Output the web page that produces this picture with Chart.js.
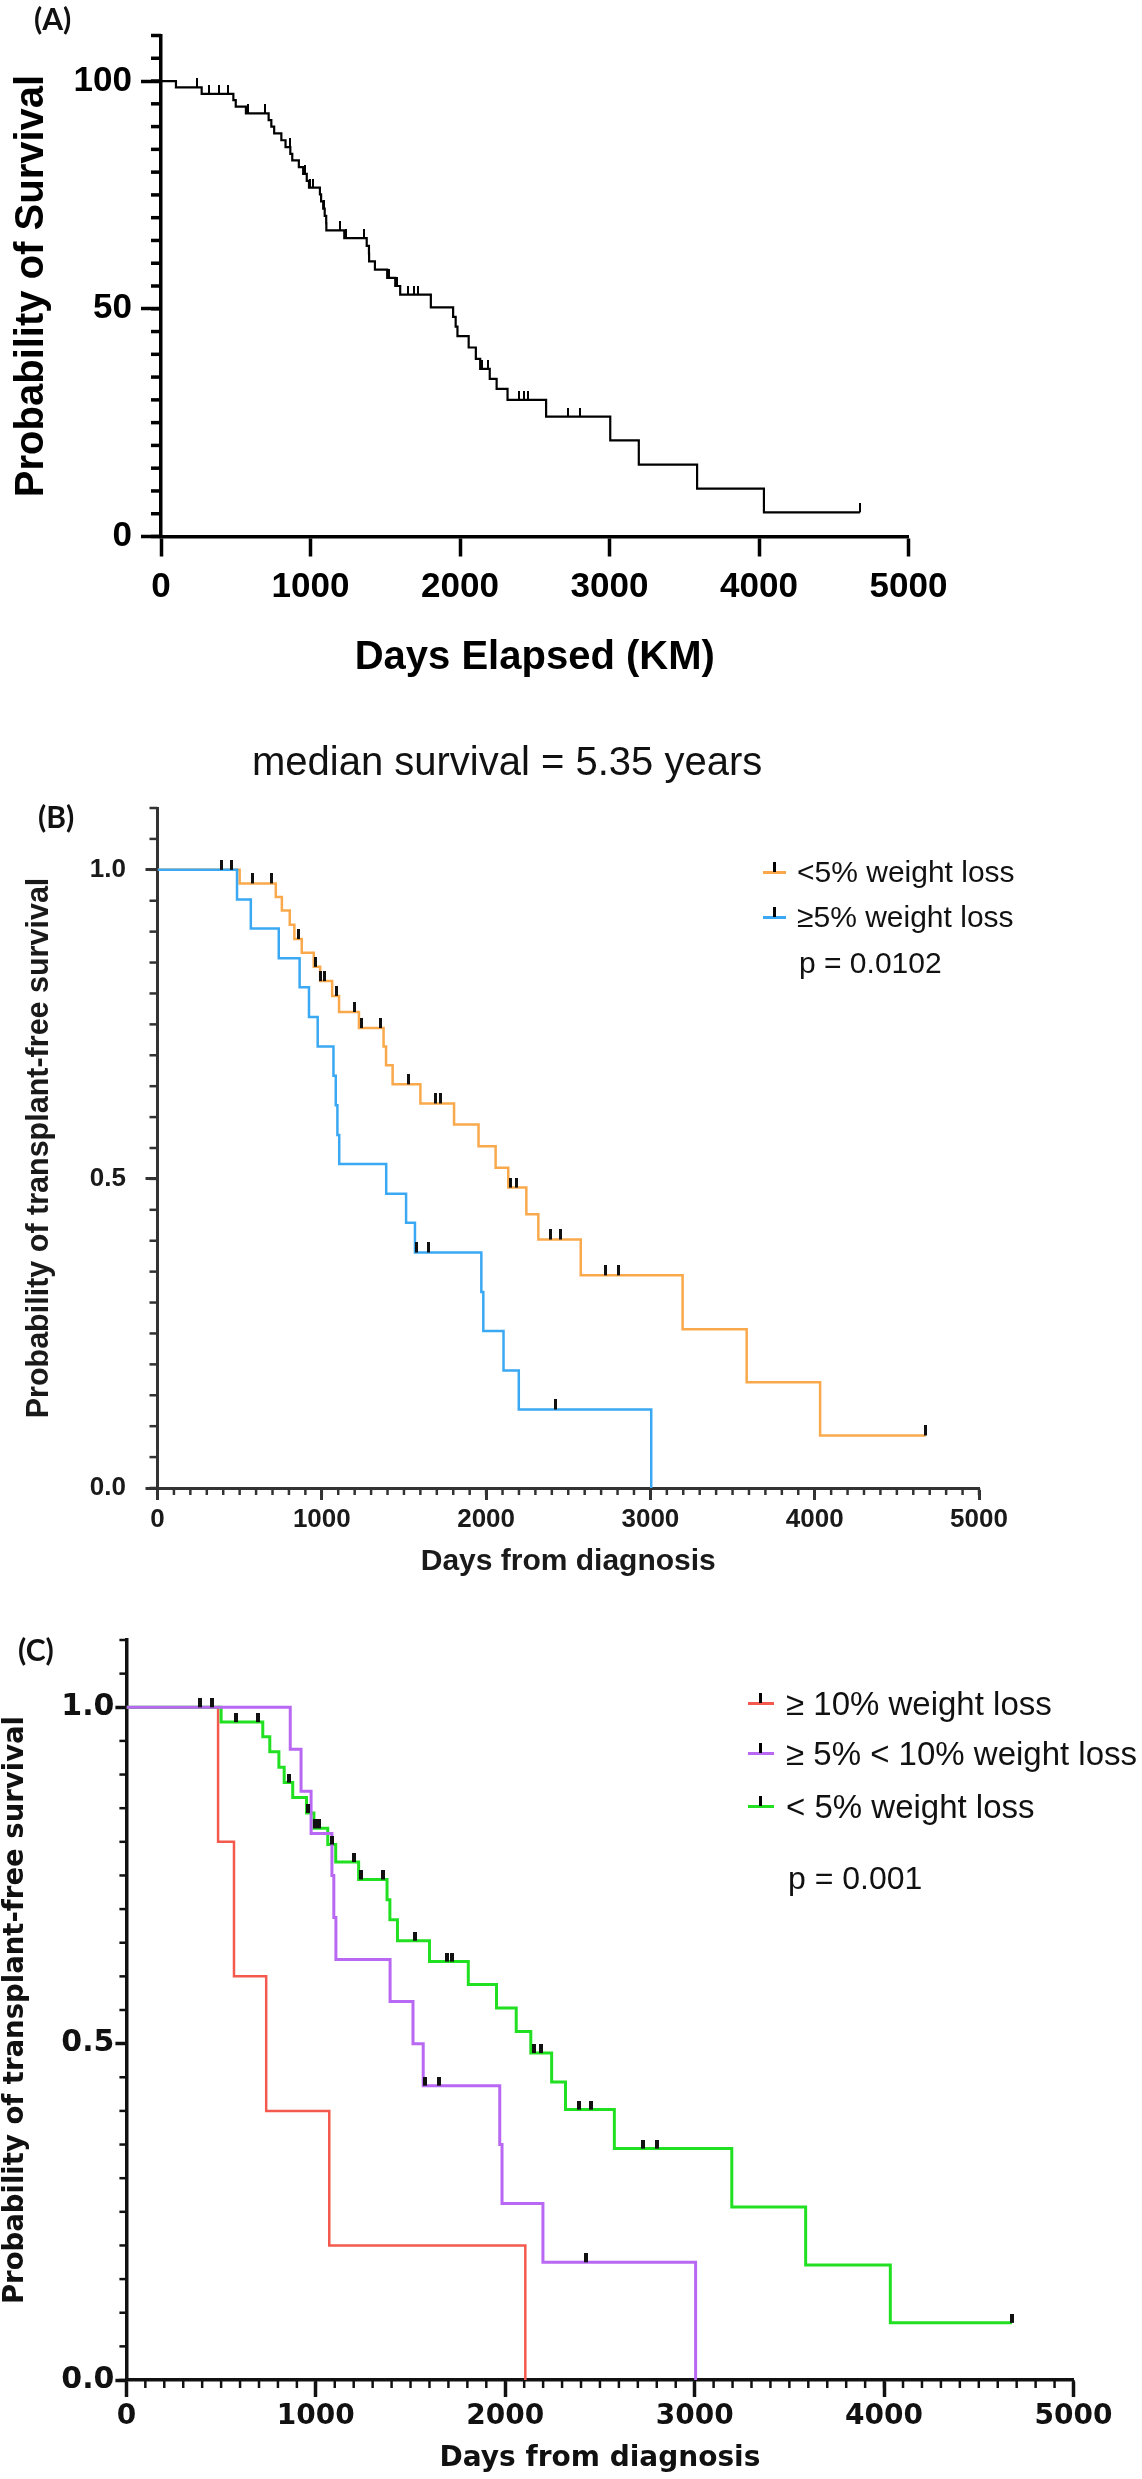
<!DOCTYPE html>
<html>
<head>
<meta charset="utf-8">
<script src="https://cdn.jsdelivr.net/npm/chart.js@4.4.1/dist/chart.umd.min.js"></script>
<style>
  html, body { margin:0; padding:0; background:#fff; }
  body { width:1142px; height:2479px; position:relative; overflow:hidden; font-family:"Liberation Sans", Arial, sans-serif; }
  canvas { position:absolute; left:0; }
  .lbl { position:absolute; white-space:nowrap; color:#111; }
  .panel { font-family:Lato, "Liberation Sans", sans-serif; font-weight:bold; font-size:30px; line-height:30px; }
  .key { position:absolute; height:0; }
  .key .ln { position:absolute; left:0; top:-1.5px; height:3px; }
  .key .tk { position:absolute; top:-10px; width:3px; height:10px; background:#000; }
</style>
</head>
<body>
<canvas id="chartA" width="1142" height="720" style="top:0"></canvas>
<canvas id="chartB" width="1142" height="880" style="top:720px"></canvas>
<canvas id="chartC" width="1142" height="879" style="top:1600px"></canvas>

<div class="lbl panel" style="left:34px; top:3px;">(A)</div>
<div class="lbl panel" style="left:38px; top:801px;">(B)</div>
<div class="lbl panel" style="left:18px; top:1634px;">(C)</div>

<div class="lbl" style="left:252px; top:741px; font-size:40px; line-height:40px;">median survival = 5.35 years</div>

<!-- legend B -->
<div class="key" style="left:763px; top:872px;"><div class="ln" style="width:23px; background:#F9A94B"></div><div class="tk" style="left:10px"></div></div>
<div class="key" style="left:763px; top:917px;"><div class="ln" style="width:23px; background:#3AA8F2"></div><div class="tk" style="left:10px"></div></div>
<div class="lbl" style="left:797px; top:857px; font-size:30px; line-height:30px;">&lt;5% weight loss</div>
<div class="lbl" style="left:797px; top:902px; font-size:30px; line-height:30px;">≥5% weight loss</div>
<div class="lbl" style="left:799px; top:948px; font-size:30px; line-height:30px;">p = 0.0102</div>

<!-- legend C -->
<div class="key" style="left:748px; top:1703px;"><div class="ln" style="width:26px; background:#F4594E"></div><div class="tk" style="left:11px"></div></div>
<div class="key" style="left:748px; top:1753px;"><div class="ln" style="width:26px; background:#B868F2"></div><div class="tk" style="left:11px"></div></div>
<div class="key" style="left:748px; top:1806px;"><div class="ln" style="width:26px; background:#21E021"></div><div class="tk" style="left:11px"></div></div>
<div class="lbl" style="left:786px; top:1687px; font-size:33px; line-height:33px;">≥ 10% weight loss</div>
<div class="lbl" style="left:786px; top:1737px; font-size:33px; line-height:33px;">≥ 5% &lt; 10% weight loss</div>
<div class="lbl" style="left:786px; top:1790px; font-size:33px; line-height:33px;">&lt; 5% weight loss</div>
<div class="lbl" style="left:788px; top:1862px; font-size:32px; line-height:32px;">p = 0.001</div>

<script>
// ---------------- DATA ----------------

// (A) all patients, survival in %
const aDays = [0, 100, 272, 484, 500, 568, 720, 738, 757, 805, 833, 865, 878, 922, 951, 975, 990, 1063, 1071, 1085, 1095, 1105, 1106, 1226, 1376, 1391, 1392, 1431, 1513, 1567, 1600, 1805, 1954, 1971, 1983, 2058, 2106, 2135, 2199, 2245, 2318, 2576, 3005, 3196, 3586, 4033, 4675];
const aSurv = [100, 98.6, 97.2, 95.8, 94.4, 92.9, 91.4, 90.0, 88.5, 87.0, 85.5, 84.0, 82.6, 81.1, 79.6, 78.1, 76.6, 75.1, 73.6, 72.0, 70.4, 68.8, 67.2, 65.5, 63.8, 62.1, 60.4, 58.6, 56.8, 55.0, 53.1, 50.3, 48.2, 46.1, 44.0, 41.5, 39.0, 36.8, 34.6, 32.4, 30.0, 26.3, 21.1, 15.8, 10.5, 5.3, 5.3];
const aCensorDays = [239, 323, 390, 450, 580, 695, 860, 960, 995, 1015, 1088, 1200, 1240, 1356, 1525, 1578, 1649, 1690, 1720, 2150, 2188, 2392, 2425, 2452, 2725, 2803, 4675];
const aCensorSurv = [98.6, 97.2, 97.2, 97.2, 92.9, 92.9, 85.5, 79.6, 76.6, 76.6, 72.0, 67.2, 65.5, 65.5, 56.8, 55.0, 53.1, 53.1, 53.1, 36.8, 36.8, 30.0, 30.0, 30.0, 26.3, 26.3, 5.3];

// <5% weight loss (orange in B, green in C)
const loDays = [0, 500, 720, 757, 805, 833, 878, 951, 990, 1063, 1105, 1226, 1376, 1391, 1431, 1600, 1805, 1954, 2058, 2135, 2245, 2318, 2576, 3196, 3586, 4033, 4675];
const loSurv = [1, 0.978, 0.956, 0.934, 0.911, 0.888, 0.866, 0.843, 0.820, 0.796, 0.770, 0.744, 0.714, 0.684, 0.653, 0.622, 0.588, 0.553, 0.518, 0.486, 0.443, 0.402, 0.344, 0.257, 0.171, 0.085, 0.085];
const loCensorDays = [390, 450, 580, 695, 860, 960, 995, 1015, 1088, 1200, 1240, 1356, 1525, 1690, 1720, 2150, 2188, 2392, 2452, 2725, 2803, 4675];
const loCensorSurv = [1, 1, 0.978, 0.978, 0.888, 0.843, 0.820, 0.820, 0.796, 0.770, 0.744, 0.744, 0.653, 0.622, 0.622, 0.486, 0.486, 0.402, 0.402, 0.344, 0.344, 0.085];

// >=5% weight loss (blue in B)
const hiDays = [0, 484, 568, 738, 865, 922, 975, 1071, 1085, 1095, 1106, 1392, 1513, 1567, 1971, 1983, 2106, 2199, 3005];
const hiSurv = [1, 0.952, 0.905, 0.857, 0.810, 0.762, 0.714, 0.667, 0.619, 0.571, 0.524, 0.476, 0.429, 0.381, 0.317, 0.254, 0.190, 0.127, 0];
const hiCensorDays = [1578, 1649, 2425];
const hiCensorSurv = [0.381, 0.381, 0.127];

// >=10% weight loss (red in C)
const sevDays = [0, 484, 568, 738, 1071, 2106];
const sevSurv = [1, 0.8, 0.6, 0.4, 0.2, 0];

// >=5% <10% weight loss (purple in C)
const modDays = [0, 865, 922, 975, 1085, 1095, 1106, 1392, 1513, 1567, 1971, 1983, 2199, 3005];
const modSurv = [1, 0.9375, 0.875, 0.8125, 0.75, 0.6875, 0.625, 0.5625, 0.5, 0.4375, 0.35, 0.2625, 0.175, 0];
const modCensorDays = [1578, 1649, 2425];
const modCensorSurv = [0.4375, 0.4375, 0.175];

// tick labels
const dayTicks = [0, 1000, 2000, 3000, 4000, 5000];
const pctTicks = [0, 50, 100];
const probTicks = [0, 0.5, 1.0];

// ---------------- HELPERS ----------------

const pts = (xs, ys) => xs.map((x, i) => ({x: x, y: ys[i]}));

// censor mark: a small bar standing on the curve
function censorMark(w, h, color){
    const c = document.createElement("canvas");
    c.width = w;
    c.height = h * 2;
    const g = c.getContext("2d");
    g.fillStyle = color;
    g.fillRect(0, 0, w, h);
    return c;
}

// short minor ticks along an axis
const minorTicks = {
    id: "minorTicks",
    afterDraw(chart, args, opts){
        const ctx = chart.ctx;
        ["x", "y"].forEach(id => {
            const o = opts[id];
            if(!o) return;
            const s = chart.scales[id];
            const n = Math.round((s.max - s.min) / o.step);
            ctx.save();
            ctx.strokeStyle = o.color;
            ctx.lineWidth = o.width;
            for(let i = 0; i <= n; i++){
                const p = s.getPixelForValue(s.min + i * o.step);
                ctx.beginPath();
                if(id === "x"){
                    ctx.moveTo(p, s.top);
                    ctx.lineTo(p, s.top + o.len);
                } else {
                    ctx.moveTo(s.right, p);
                    ctx.lineTo(s.right - o.len, p);
                }
                ctx.stroke();
            }
            ctx.restore();
        });
    }
};

function stepLine(xs, ys, color, width, order){
    return {
        type: "line",
        data: pts(xs, ys),
        stepped: true,
        borderColor: color,
        borderWidth: width,
        pointRadius: 0,
        fill: false,
        order: order
    };
}

function censors(xs, ys, mark){
    return {
        type: "scatter",
        data: pts(xs, ys),
        pointStyle: mark,
        pointRadius: 5,
        order: -1
    };
}

function font(family, size, weight){
    return {family: family, size: size, weight: weight, lineHeight: 1};
}

function makeChart(id, datasets, cfg){
    return new Chart(document.getElementById(id), {
        type: "line",
        data: {datasets: datasets},
        options: {
            responsive: false,
            animation: false,
            devicePixelRatio: 1,
            events: [],
            layout: {padding: {top: cfg.padTop, right: cfg.padRight, left: 0, bottom: 0}},
            plugins: {
                legend: {display: false},
                tooltip: {enabled: false},
                minorTicks: cfg.minor
            },
            scales: {
                x: {
                    type: "linear",
                    min: 0,
                    max: 5000,
                    afterFit: s => { s.height = cfg.xHeight; },
                    afterBuildTicks: s => { s.ticks = dayTicks.map(v => ({value: v})); },
                    grid: {drawOnChartArea: false, drawTicks: true, tickLength: cfg.xTick, tickWidth: cfg.axisWidth, tickColor: cfg.axisColor},
                    border: {display: true, width: cfg.axisWidth, color: cfg.axisColor},
                    ticks: {color: cfg.textColor, font: cfg.xTickFont, padding: cfg.xTickPad, maxRotation: 0, autoSkip: false, callback: v => String(v)},
                    title: {display: true, text: cfg.xTitle, color: cfg.textColor, font: cfg.xTitleFont, padding: {top: 0, bottom: cfg.xTitlePad}}
                },
                y: {
                    type: "linear",
                    min: 0,
                    max: cfg.yMax,
                    afterFit: s => { s.width = cfg.yWidth; },
                    afterBuildTicks: s => { s.ticks = cfg.yTicks.map(v => ({value: v})); },
                    grid: {drawOnChartArea: false, drawTicks: true, tickLength: cfg.yTick, tickWidth: cfg.axisWidth, tickColor: cfg.axisColor},
                    border: {display: true, width: cfg.axisWidth, color: cfg.axisColor},
                    ticks: {color: cfg.textColor, font: cfg.yTickFont, padding: cfg.yTickPad, callback: cfg.yFormat},
                    title: {display: true, text: cfg.yTitle, color: cfg.textColor, font: cfg.yTitleFont, padding: {top: cfg.yTitlePad, bottom: 0}}
                }
            }
        },
        plugins: [minorTicks]
    });
}

// ---------------- CHARTS ----------------

const SANS = "'Liberation Sans', Arial, sans-serif";
const WIDE = "'DejaVu Sans', Verdana, sans-serif";

makeChart("chartA", [
    censors(aCensorDays, aCensorSurv, censorMark(2, 9, "#000")),
    stepLine(aDays, aSurv, "#000", 2.2, 0)
], {
    padTop: 35.5, padRight: 233.5, xHeight: 183.5, yWidth: 161,
    yMax: 110, yTicks: pctTicks, yFormat: v => String(v),
    axisWidth: 3.5, axisColor: "#000", textColor: "#000",
    xTick: 20, yTick: 20,
    xTickFont: font(SANS, 35, "bold"), xTickPad: 13,
    yTickFont: font(SANS, 35, "bold"), yTickPad: 9,
    xTitle: "Days Elapsed (KM)", xTitleFont: font(SANS, 40, "bold"), xTitlePad: 42.5,
    yTitle: "Probability of Survival", yTitleFont: font(SANS, 40, "bold"), yTitlePad: 11.5,
    minor: {y: {step: 5, len: 10, width: 3.5, color: "#000"}}
});

makeChart("chartB", [
    censors(loCensorDays, loCensorSurv, censorMark(3, 10, "#111")),
    censors(hiCensorDays, hiCensorSurv, censorMark(3, 10, "#111")),
    stepLine(hiDays, hiSurv, "#3AA8F2", 2.5, 0),
    stepLine(loDays, loSurv, "#F9A94B", 2.5, 1)
], {
    padTop: 88, padRight: 163, xHeight: 112, yWidth: 157.5,
    yMax: 1.1, yTicks: probTicks, yFormat: v => v.toFixed(1),
    axisWidth: 3, axisColor: "#333", textColor: "#1a1a1a",
    xTick: 12, yTick: 12,
    xTickFont: font(SANS, 26, "bold"), xTickPad: 7,
    yTickFont: font(SANS, 26, "bold"), yTickPad: 19.5,
    xTitle: "Days from diagnosis", xTitleFont: font(SANS, 30, "bold"), xTitlePad: 23,
    yTitle: "Probability of transplant-free survival", yTitleFont: font(SANS, 30.5, "bold"), yTitlePad: 24.5,
    minor: {x: {step: 100, len: 7, width: 2.5, color: "#333"}, y: {step: 0.05, len: 8, width: 2.5, color: "#333"}}
});

makeChart("chartC", [
    censors(loCensorDays, loCensorSurv, censorMark(4, 9, "#111")),
    censors(modCensorDays, modCensorSurv, censorMark(4, 9, "#111")),
    stepLine(modDays, modSurv, "#B868F2", 3, 0),
    stepLine(loDays, loSurv, "#21E021", 3, 1),
    stepLine(sevDays, sevSurv, "#F4594E", 2.5, 2)
], {
    padTop: 40, padRight: 68.5, xHeight: 99, yWidth: 126.4,
    yMax: 1.1, yTicks: probTicks, yFormat: v => v.toFixed(1),
    axisWidth: 3.5, axisColor: "#111", textColor: "#111",
    xTick: 17, yTick: 11,
    xTickFont: font(WIDE, 28, "bold"), xTickPad: 5.5,
    yTickFont: font(WIDE, 30, "bold"), yTickPad: 1,
    xTitle: "Days from diagnosis", xTitleFont: font(WIDE, 28, "bold"), xTitlePad: 6,
    yTitle: "Probability of transplant-free survival", yTitleFont: font(WIDE, 27.5, "bold"), yTitlePad: 2,
    minor: {x: {step: 100, len: 8, width: 2.5, color: "#111"}, y: {step: 0.05, len: 7, width: 2.5, color: "#111"}}
});
</script>
</body>
</html>
